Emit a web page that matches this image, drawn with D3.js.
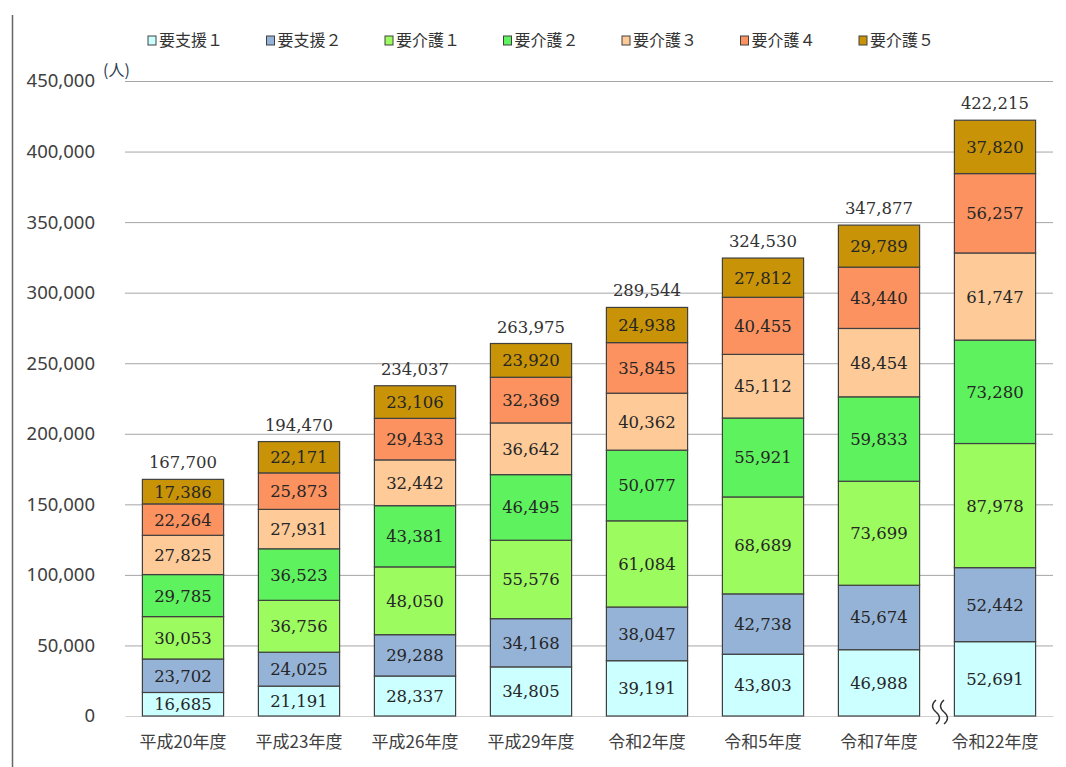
<!DOCTYPE html>
<head>
  <meta charset="utf-8">
  <script src="https://cdnjs.cloudflare.com/ajax/libs/d3/7.8.5/d3.min.js"></script>
</head>
<style>
  body { margin: 0; background: #fff; }
  .grid line { stroke: #a6a6a6; stroke-width: 1; }
  .grid path { display: none; }
  .y_axis path, .y_axis line { display: none; }
  .y_axis text { font-family: "Noto Sans", "DejaVu Sans", sans-serif; font-size: 18.5px; fill: #404040; }
  .x_axis path { stroke: #d0d0d0; }
  .x_axis line { display: none; }
  .x_axis text { font-family: "Noto Sans CJK JP", sans-serif; font-size: 17px; fill: #404040; }
  .seg { stroke: #404040; stroke-width: 1.2; }
  .val { font-family: "DejaVu Serif", serif; font-size: 16.5px; fill: #262626; }
  .tot { font-family: "DejaVu Serif", serif; font-size: 16.5px; fill: #333; }
  .leg { font-family: "Noto Sans CJK JP", sans-serif; font-size: 16px; fill: #333; }
</style>
<body>
<svg width="1066" height="767" class="my_bar"></svg>
<script>
const years = ["平成20年度", "平成23年度", "平成26年度", "平成29年度", "令和2年度", "令和5年度", "令和7年度", "令和22年度"];
const levels = ["要支援１", "要支援２", "要介護１", "要介護２", "要介護３", "要介護４", "要介護５"];
const shien1  = [16685, 21191, 28337, 34805, 39191, 43803, 46988, 52691];
const shien2  = [23702, 24025, 29288, 34168, 38047, 42738, 45674, 52442];
const kaigo1  = [30053, 36756, 48050, 55576, 61084, 68689, 73699, 87978];
const kaigo2  = [29785, 36523, 43381, 46495, 50077, 55921, 59833, 73280];
const kaigo3  = [27825, 27931, 32442, 36642, 40362, 45112, 48454, 61747];
const kaigo4  = [22264, 25873, 29433, 32369, 35845, 40455, 43440, 56257];
const kaigo5  = [17386, 22171, 23106, 23920, 24938, 27812, 29789, 37820];
const totals  = [167700, 194470, 234037, 263975, 289544, 324530, 347877, 422215];
const yTicks  = [0, 50000, 100000, 150000, 200000, 250000, 300000, 350000, 400000, 450000];
const colors  = ["#ccffff", "#95b3d7", "#9cfb5e", "#5ef25e", "#fdca98", "#fb925f", "#c89307"];

const series = [shien1, shien2, kaigo1, kaigo2, kaigo3, kaigo4, kaigo5];

let svg = d3.select(".my_bar");
let margin = {top: 81, right: 13, bottom: 51, left: 125},
    width = +svg.attr("width") - margin.left - margin.right,
    height = +svg.attr("height") - margin.top - margin.bottom;

// left frame line
svg.append("line").attr("x1", 12.5).attr("x2", 12.5).attr("y1", 15).attr("y2", 767)
  .attr("stroke", "#666").attr("stroke-width", 1.5);

let g = svg.append("g").attr("transform", "translate(" + margin.left + "," + margin.top + ")");

let x = d3.scaleBand().domain(years).range([0, width]).paddingInner(0.3).paddingOuter(0.15);
let y = d3.scaleLinear().domain([0, 450000]).range([height, 0]);

g.append("g").attr("class", "grid")
  .call(d3.axisLeft(y).tickValues(yTicks.slice(1)).tickSize(-width).tickFormat(""));

g.append("g").attr("class", "y_axis")
  .call(d3.axisLeft(y).tickValues(yTicks).tickFormat(d3.format(",")).tickPadding(24));

g.append("g").attr("class", "x_axis")
  .attr("transform", "translate(0," + height + ")")
  .call(d3.axisBottom(x).tickSize(0).tickPadding(20));

// unit label
g.append("text").attr("x", -22).attr("y", y(450000) - 5)
  .attr("font-family", "Noto Sans CJK JP, sans-serif").attr("font-size", 16).attr("fill", "#2f4050")
  .text("(人)");

let table = years.map(function(yr, i) {
  let row = {year: yr};
  levels.forEach(function(l, j) { row[l] = series[j][i]; });
  return row;
});
let stacked = d3.stack().keys(levels)(table);

let layers = g.selectAll(".layer").data(stacked).enter().append("g")
  .attr("fill", function(d, i) { return colors[i]; });

layers.selectAll("rect").data(function(d) { return d; }).enter().append("rect")
  .attr("class", "seg")
  .attr("x", function(d) { return x(d.data.year); })
  .attr("y", function(d) { return y(d[1]); })
  .attr("width", x.bandwidth())
  .attr("height", function(d) { return y(d[0]) - y(d[1]); });

layers.selectAll("text").data(function(d) { return d; }).enter().append("text")
  .attr("class", "val")
  .attr("text-anchor", "middle")
  .attr("x", function(d) { return x(d.data.year) + x.bandwidth() / 2; })
  .attr("y", function(d) { return (y(d[0]) + y(d[1])) / 2 + 6; })
  .text(function(d) { return d3.format(",")(d[1] - d[0]); });

g.selectAll(".tot").data(totals).enter().append("text")
  .attr("class", "tot")
  .attr("text-anchor", "middle")
  .attr("x", function(d, i) { return x(years[i]) + x.bandwidth() / 2; })
  .attr("y", function(d) { return y(d) - 11; })
  .text(d3.format(","));

// break mark between 令和7年度 and 令和22年度
let bx = (x(years[6]) + x.bandwidth() + x(years[7])) / 2;
[-4, 4].forEach(function(dx) {
  g.append("path")
    .attr("d", "M" + (bx + dx + 3) + "," + (height - 16) + " q-7,6 0,12 q7,6 0,12")
    .attr("fill", "none").attr("stroke", "#333").attr("stroke-width", 1.4);
});

// legend
let leg = svg.append("g").attr("transform", "translate(148,42)");
let items = leg.selectAll("g").data(levels).enter().append("g")
  .attr("transform", function(d, i) { return "translate(" + (i * 118.5) + ",0)"; });
items.append("rect").attr("x", 0).attr("y", -6).attr("width", 8).attr("height", 9)
  .attr("fill", function(d, i) { return colors[i]; }).attr("stroke", "#404040").attr("stroke-width", 1);
items.append("text").attr("class", "leg").attr("x", 11).attr("y", 4).text(function(d) { return d; });
</script>
</body>
